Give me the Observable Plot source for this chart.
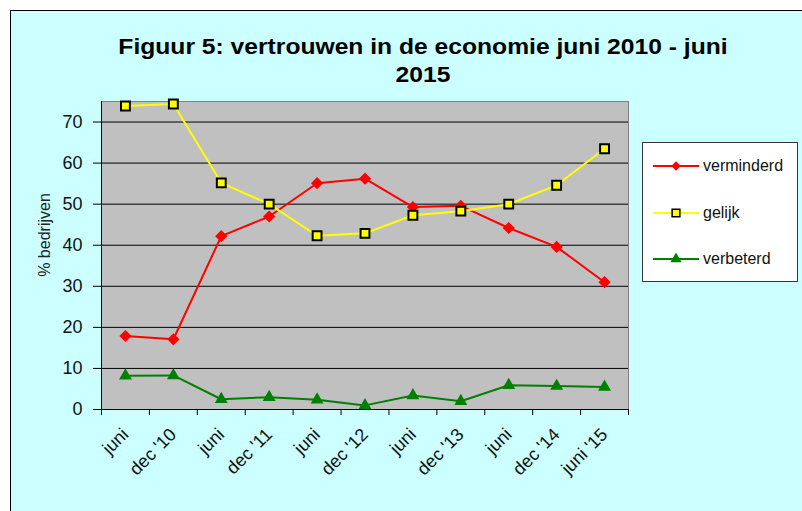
<!DOCTYPE html>
<html>
<head>
<meta charset="utf-8">
<script src="https://cdn.jsdelivr.net/npm/d3@7"></script>
<script src="https://cdn.jsdelivr.net/npm/@observablehq/plot@0.6"></script>
<style>
  body { margin: 0; background: #ffffff; font-family: "Liberation Sans", Arial, sans-serif; }
  #wrap { position: relative; width: 802px; height: 511px; overflow: hidden; }
  #bg { position: absolute; left: 10px; top: 10px; width: 820px; height: 540px; background: #ccffff;
        border-left: 1px solid #000; border-top: 1px solid #000; }
  #title { position: absolute; left: 0; top: 33px; width: 846px; text-align: center; font-weight: bold;
           font-size: 22px; line-height: 28px; color: #000; transform: scaleX(1.12); transform-origin: 50% 0; }
  #chart { position: absolute; left: 0; top: 0; }
  #ylabel { position: absolute; left: 45px; top: 235px; transform: translate(-50%, -50%) rotate(-90deg);
            font-size: 16px; color: #222; white-space: nowrap; }
  #legend { position: absolute; left: 642px; top: 142px; width: 154px; height: 138px; background: #fff;
            border: 1px solid #333; }
  .item { position: absolute; left: 0; height: 20px; display: flex; align-items: center; font-size: 16px; color: #111; }
  .item svg { margin-left: 10px; margin-right: 4px; }
</style>
</head>
<body>
<div id="wrap">
  <div id="bg"></div>
  <div id="title">Figuur 5: vertrouwen in de economie juni 2010 - juni<br>2015</div>
  <div id="chart"></div>
  <div id="ylabel">% bedrijven</div>
  <div id="legend"></div>
</div>
<script>
const categories = ["juni", "dec '10", "juni", "dec '11", "juni", "dec '12", "juni", "dec '13", "juni", "dec '14", "juni '15"];
const verminderd = [17.9, 17.1, 42.2, 47.0, 55.1, 56.2, 49.3, 49.6, 44.2, 39.6, 31.0];
const gelijk = [73.9, 74.4, 55.2, 50.0, 42.3, 42.9, 47.3, 48.3, 50.0, 54.6, 63.5];
const verbeterd = [8.2, 8.3, 2.5, 3.0, 2.4, 1.0, 3.4, 2.0, 5.9, 5.7, 5.5];
const seriesNames = ["verminderd", "gelijk", "verbeterd"];
const seriesColors = ["#ff0000", "#ffff00", "#008000"];
const seriesSymbols = ["diamond2", "square", "triangle"];
const yTicks = [0, 10, 20, 30, 40, 50, 60, 70];

const seriesValues = [verminderd, gelijk, verbeterd];
const idx = d3.range(categories.length);
const boundaries = d3.range(categories.length + 1).map(k => k - 0.5);

const seriesMarks = seriesValues.flatMap((vals, s) => {
  const rows = vals.map((v, i) => ({i, v}));
  const dotOpts = {x: "i", y: "v", symbol: seriesSymbols[s], fill: seriesColors[s]};
  if (s === 0) Object.assign(dotOpts, {r: 5.5});
  if (s === 1) Object.assign(dotOpts, {r: 5, stroke: "#000", strokeWidth: 2});
  if (s === 2) Object.assign(dotOpts, {r: 4.8});
  return [
    Plot.line(rows, {x: "i", y: "v", stroke: seriesColors[s], strokeWidth: 2}),
    Plot.dot(rows, dotOpts)
  ];
});

const chart = Plot.plot({
  width: 802,
  height: 511,
  marginLeft: 101,
  marginRight: 174,
  marginTop: 101,
  marginBottom: 102,
  style: {background: "transparent", fontFamily: "'Liberation Sans', Arial, sans-serif", color: "#111", overflow: "visible"},
  x: {domain: [-0.5, categories.length - 0.5], axis: null},
  y: {domain: [0, 75], axis: null},
  marks: [
    Plot.frame({fill: "#c0c0c0", stroke: "#808080"}),
    Plot.gridY(yTicks.filter(d => d > 0), {stroke: "#000", strokeOpacity: 1}),
    Plot.axisY({ticks: yTicks, tickSize: 8, tickPadding: 11, fontSize: 18, label: null, stroke: "#000"}),
    Plot.axisX({ticks: idx, tickFormat: i => categories[i], tickRotate: -45, tickSize: 0, tickPadding: 22, fontSize: 18, label: null}),
    Plot.axisX({ticks: boundaries, tickFormat: () => "", tickSize: 6, label: null, stroke: "#000"}),
    Plot.ruleX([-0.5], {stroke: "#000"}),
    Plot.ruleY([0], {stroke: "#000"}),
    ...seriesMarks
  ]
});
document.getElementById("chart").appendChild(chart);

// legend
const legend = document.getElementById("legend");
const legendY = [23, 70, 116];
const legendSym = [d3.symbolDiamond2, d3.symbolSquare, d3.symbolTriangle];
const legendSize = [55, 60, 55];
seriesNames.forEach((name, s) => {
  const item = document.createElement("div");
  item.className = "item";
  item.style.top = (legendY[s] - 10) + "px";
  const svg = d3.create("svg").attr("width", 46).attr("height", 20);
  svg.append("line").attr("x1", 0).attr("x2", 46).attr("y1", 10).attr("y2", 10)
    .attr("stroke", seriesColors[s]).attr("stroke-width", 2);
  svg.append("path").attr("transform", "translate(23,10)")
    .attr("d", d3.symbol(legendSym[s], legendSize[s])())
    .attr("fill", seriesColors[s])
    .attr("stroke", s === 1 ? "#000" : "none")
    .attr("stroke-width", 1.5);
  item.appendChild(svg.node());
  const span = document.createElement("span");
  span.textContent = name;
  item.appendChild(span);
  legend.appendChild(item);
});
</script>
</body>
</html>
